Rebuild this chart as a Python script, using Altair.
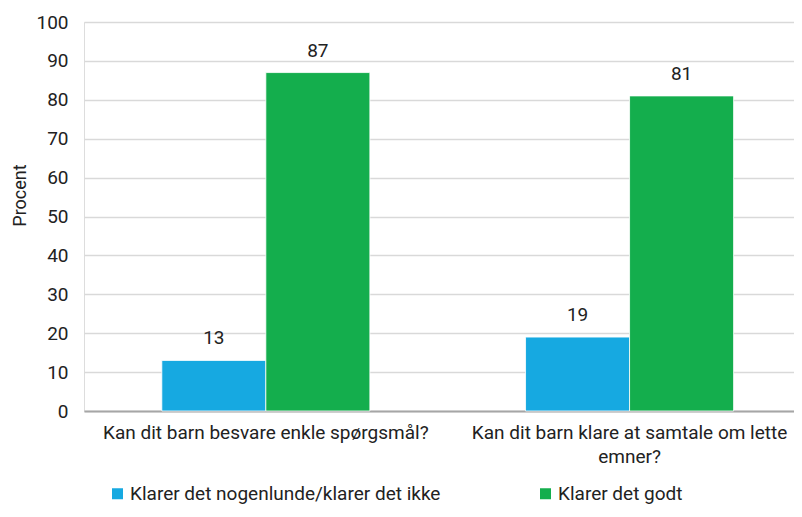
import altair as alt
import pandas as pd

categories = ["Kan dit barn besvare enkle spørgsmål?",
              "Kan dit barn klare at samtale om lette\nemner?"]
series = ["Klarer det nogenlunde/klarer det ikke", "Klarer det godt"]
values_low = [13, 19]
values_good = [87, 81]
colors = ["#16A9E1", "#14AE4D"]

rows = []
for c, a, b in zip(categories, values_low, values_good):
    rows.append({"cat": c, "series": series[0], "value": a})
    rows.append({"cat": c, "series": series[1], "value": b})
df = pd.DataFrame(rows)

FONT = "Roboto"
FS = 19

x = alt.X("cat:N", sort=categories, title=None,
          scale=alt.Scale(paddingInner=0.428, paddingOuter=0.19, align=0.563),
          axis=alt.Axis(labelAngle=0, labelExpr="split(datum.label, '\\n')",
                        labelPadding=12, labelLineHeight=24, ticks=False,
                        domainColor="#A6A6A6", domainWidth=2, labelLimit=400,
                        labelFontSize=FS, labelColor="#222", labelFont=FONT))
xo = alt.XOffset("series:N", sort=series, scale=alt.Scale(paddingInner=0, paddingOuter=0))
y = alt.Y("value:Q", title="Procent",
          scale=alt.Scale(domain=[0, 100], nice=False),
          axis=alt.Axis(values=list(range(0, 101, 10)), ticks=False, domain=False,
                        gridColor="#D9D9D9", gridWidth=1.5, labelPadding=16,
                        labelFontSize=FS, labelColor="#222", labelFont=FONT,
                        labelOverlap=False,
                        titleFontSize=FS - 1, titleFontWeight="normal", titleColor="#222",
                        titleFont=FONT, titleAngle=-90, titleX=-64, titleY=173,
                        titleAlign="center", titleBaseline="middle"))

color = alt.Color("series:N", sort=series,
                  scale=alt.Scale(domain=series, range=colors),
                  legend=alt.Legend(title=None, orient="none", legendX=24, legendY=462,
                                    direction="horizontal", columns=2, columnPadding=95,
                                    symbolType="square", symbolSize=121, symbolStrokeWidth=0,
                                    labelOffset=3, labelFontSize=FS, labelFont=FONT,
                                    labelColor="#222", labelLimit=500))

base = alt.Chart(df).encode(x=x, xOffset=xo, y=y)
bars = base.mark_bar(stroke="white", strokeWidth=0.8).encode(color=color)
labels = base.mark_text(dy=-16, baseline="alphabetic", fontSize=FS,
                        font=FONT, color="#222").encode(text="value:Q")

chart = alt.layer(bars, labels).properties(
    width=710, height=389,
    autosize=alt.AutoSizeParams(type="none"),
    padding={"left": 76, "top": 14, "right": 0, "bottom": 98},
).configure_view(stroke=None).configure(font=FONT)

chart.save("out.html", embed_options={"renderer": "svg", "actions": False})
